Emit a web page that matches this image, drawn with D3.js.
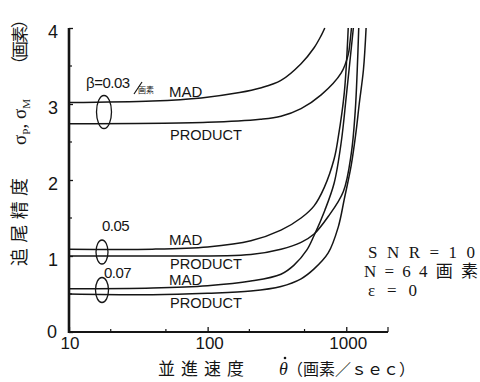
<!DOCTYPE html>
<html><head><meta charset="utf-8">
<script src="https://cdn.jsdelivr.net/npm/d3@7"></script>
<style>body{margin:0;background:#fff}svg{display:block}</style>
</head><body><svg id="c" width="480" height="382"></svg>
<script>
// ---- data ----
const xTickValues = [10, 100, 1000];
const xTickLabels = ["10", "100", "1000"];
const xMinorTicks = [20, 50, 200, 500, 2000];
const yTickValues = [0, 1, 2, 3, 4];
const yTickLabels = ["0", "1", "2", "3", "4"];
const yMinorTicks = [0.5, 1.5, 2.5, 3.5];

const mad003X = [10, 40, 90, 170, 240, 338, 472, 586, 659, 700];
const mad003Y = [3.02, 3.04, 3.08, 3.15, 3.21, 3.31, 3.53, 3.74, 3.9, 4.0];
const prod003X = [10, 100, 240, 338, 472, 659, 920, 1033, 1065, 1090];
const prod003Y = [2.74, 2.76, 2.80, 2.84, 2.94, 3.12, 3.41, 3.65, 3.82, 4.0];
const mad005X = [10, 40, 100, 205, 338, 472, 586, 693, 818, 875, 968, 1033];
const mad005Y = [1.09, 1.09, 1.12, 1.2, 1.34, 1.5, 1.66, 1.9, 2.28, 2.56, 3.15, 4.0];
const prod005X = [10, 40, 205, 338, 472, 586, 741, 953, 1087, 1160, 1200, 1230];
const prod005Y = [1.0, 1.0, 1.02, 1.09, 1.18, 1.29, 1.52, 1.85, 2.35, 2.9, 3.45, 4.0];
const mad007X = [10, 40, 100, 205, 338, 420, 520, 586, 700, 818, 920, 1000, 1125];
const mad007Y = [0.57, 0.58, 0.61, 0.67, 0.76, 0.88, 1.08, 1.27, 1.6, 1.96, 2.5, 3.1, 4.0];
const prod007X = [10, 40, 100, 205, 338, 472, 586, 741, 875, 968, 1087, 1181, 1240, 1330, 1390];
const prod007Y = [0.5, 0.49, 0.51, 0.54, 0.6, 0.7, 0.83, 1.04, 1.38, 1.75, 2.2, 2.66, 3.0, 3.45, 4.0];

const betaLabels = ["β=0.03", "0.05", "0.07"];
const methodLabels = ["MAD", "PRODUCT"];
const condLabels = ["SNR=10", "N=64画素", "ε=0"];

// ---- drawing ----
const svg = d3.select("#c");
const ink = "#151515";
const x = d3.scaleLog().domain([10, 2000]).range([69, 388]);
const y = d3.scaleLinear().domain([0, 4]).range([332, 28]);

svg.append("clipPath").attr("id", "plot").append("rect")
  .attr("x", 69).attr("y", 27).attr("width", 330).attr("height", 306);

const series = [
  [mad003X, mad003Y], [prod003X, prod003Y],
  [mad005X, mad005Y], [prod005X, prod005Y],
  [mad007X, mad007Y], [prod007X, prod007Y]
];
const line = d3.line().x(d => x(d[0])).y(d => y(d[1])).curve(d3.curveCatmullRom.alpha(0.5));
svg.append("g").attr("clip-path", "url(#plot)").selectAll("path").data(series).join("path")
  .attr("d", s => line(s[0].map((v, i) => [v, s[1][i]])))
  .attr("fill", "none").attr("stroke", ink).attr("stroke-width", 1.5);

// axes
const gx = svg.append("g").attr("transform", "translate(0,332)");
gx.call(d3.axisBottom(x).tickValues(xTickValues).tickSize(-5).tickFormat(""));
gx.append("g").selectAll("line").data(xMinorTicks).join("line")
  .attr("x1", d => x(d)).attr("x2", d => x(d)).attr("y1", 0).attr("y2", d => d === 2000 ? -5 : -3)
  .attr("stroke", ink).attr("stroke-width", 1.2);
gx.select(".domain").attr("d", "M69,0H388").attr("stroke", ink).attr("stroke-width", 2.2);
gx.selectAll(".tick line").attr("stroke", ink).attr("stroke-width", 1.3);

const gy = svg.append("g").attr("transform", "translate(69,0)");
gy.call(d3.axisLeft(y).tickValues(yTickValues).tickSize(-4).tickFormat(""));
gy.append("g").selectAll("line").data(yMinorTicks).join("line")
  .attr("x1", 0).attr("x2", 3).attr("y1", d => y(d)).attr("y2", d => y(d))
  .attr("stroke", ink).attr("stroke-width", 1.2);
gy.select(".domain").attr("d", "M0,28V333").attr("stroke", ink).attr("stroke-width", 2.6);
gy.selectAll(".tick line").attr("stroke", ink).attr("stroke-width", 1.3);

// tick labels
const tickFont = "'Liberation Sans', Arial, sans-serif";
svg.append("g").selectAll("text").data(yTickValues).join("text")
  .attr("x", (d) => d === 0 ? 57 : 58).attr("y", d => y(d) + (d === 0 ? 1 : 5))
  .attr("text-anchor", "end").attr("dominant-baseline", "middle")
  .attr("font-family", tickFont).attr("font-size", 18).attr("fill", ink)
  .text((d, i) => yTickLabels[i]);
svg.append("g").selectAll("text").data(xTickValues).join("text")
  .attr("x", d => x(d) + (d === 10 ? 1 : 2)).attr("y", 349)
  .attr("text-anchor", "middle")
  .attr("font-family", tickFont).attr("font-size", 17).attr("fill", ink)
  .text((d, i) => xTickLabels[i]);

// axis titles
const jp = "'Noto Sans CJK JP', sans-serif";
const xt = svg.append("g").attr("fill", ink);
xt.append("text").attr("x", 158).attr("y", 375).attr("font-family", jp).attr("font-size", 17)
  .attr("textLength", 86).attr("lengthAdjust", "spacing").text("並進速度");
xt.append("text").attr("x", 279).attr("y", 375).attr("font-family", "'Liberation Serif', serif")
  .attr("font-style", "italic").attr("font-size", 18).text("θ");
xt.append("circle").attr("cx", 285).attr("cy", 358).attr("r", 1.3).attr("fill", ink);
xt.append("text").attr("x", 287).attr("y", 375).attr("font-family", jp).attr("font-size", 16)
  .attr("textLength", 128).attr("lengthAdjust", "spacing").text("（画素／ｓｅｃ）");

const yt = svg.append("g").attr("fill", ink);
yt.append("text").attr("transform", "translate(26,222) rotate(-90)").attr("text-anchor", "middle")
  .attr("font-family", jp).attr("font-size", 18).attr("textLength", 88).attr("lengthAdjust", "spacing")
  .text("追尾精度");
const sig = yt.append("text").attr("transform", "translate(26,122) rotate(-90)").attr("text-anchor", "middle")
  .attr("font-family", "'Liberation Serif', serif").attr("font-size", 19);
sig.append("tspan").text("σ");
sig.append("tspan").attr("font-size", 11).attr("dy", 4).text("P");
sig.append("tspan").attr("dy", -4).text(", σ");
sig.append("tspan").attr("font-size", 11).attr("dy", 4).text("M");
yt.append("text").attr("transform", "translate(26,42) rotate(-90)").attr("text-anchor", "middle")
  .attr("font-family", jp).attr("font-size", 17).attr("textLength", 62).attr("lengthAdjust", "spacing")
  .text("（画素）");

// annotations
const ann = svg.append("g").attr("fill", ink).attr("font-family", tickFont);
ann.append("text").attr("x", 86).attr("y", 88).attr("font-size", 15).attr("letter-spacing", -0.5).text(betaLabels[0]);
ann.append("line").attr("x1", 134).attr("y1", 94).attr("x2", 142).attr("y2", 82).attr("stroke", ink).attr("stroke-width", 1.2);
ann.append("text").attr("x", 138).attr("y", 93).attr("font-family", jp).attr("font-size", 8).text("画素");
ann.append("text").attr("x", 102).attr("y", 231).attr("font-size", 15).attr("letter-spacing", -0.5).text(betaLabels[1]);
ann.append("text").attr("x", 104).attr("y", 278).attr("font-size", 15).attr("letter-spacing", -0.5).text(betaLabels[2]);

const madY = [97, 245, 285];
const prodY = [140, 269, 308];
ann.append("g").selectAll("text").data(madY).join("text")
  .attr("x", 169).attr("y", d => d).attr("font-size", 15).text(methodLabels[0]);
ann.append("g").selectAll("text").data(prodY).join("text")
  .attr("x", 170).attr("y", d => d).attr("font-size", 14.5).attr("textLength", 72)
  .attr("lengthAdjust", "spacingAndGlyphs").text(methodLabels[1]);

const ellipses = [[104, 112, 7.5, 16.5], [102, 252, 6, 12], [102, 290, 6.5, 12.5]];
svg.append("g").selectAll("ellipse").data(ellipses).join("ellipse")
  .attr("cx", d => d[0]).attr("cy", d => d[1]).attr("rx", d => d[2]).attr("ry", d => d[3])
  .attr("fill", "none").attr("stroke", ink).attr("stroke-width", 1.3);

// conditions
const cond = svg.append("g").attr("fill", ink).attr("font-family", "'Liberation Serif', 'Noto Sans CJK JP', serif").attr("font-size", 17);
cond.append("text").attr("x", 368).attr("y", 258).attr("textLength", 107).attr("lengthAdjust", "spacing").text(condLabels[0]);
cond.append("text").attr("x", 364).attr("y", 277).attr("textLength", 114).attr("lengthAdjust", "spacing").text(condLabels[1]);
cond.append("text").attr("x", 368).attr("y", 296).attr("textLength", 49).attr("lengthAdjust", "spacing").text(condLabels[2]);
</script></body></html>
